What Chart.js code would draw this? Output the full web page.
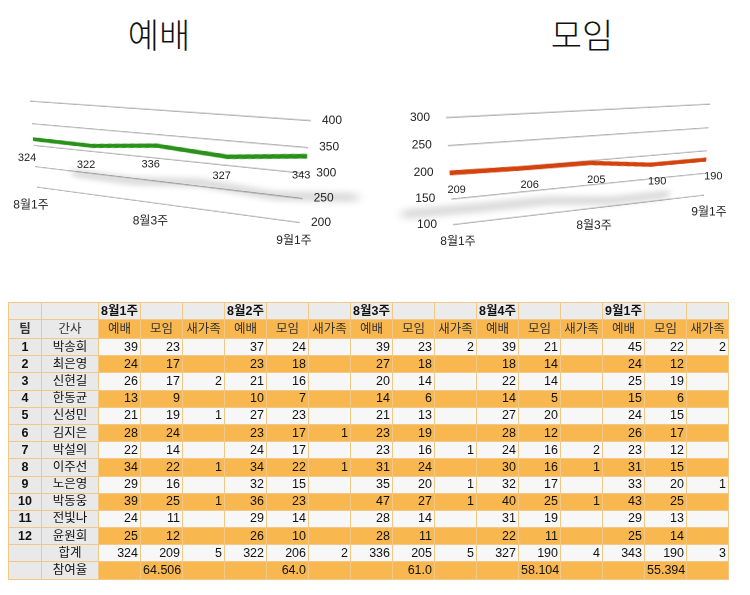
<!DOCTYPE html>
<html>
<head>
<meta charset="utf-8">
<script src="https://cdn.jsdelivr.net/npm/chart.js@4/dist/chart.umd.min.js"></script>
<style>
  html, body { margin: 0; padding: 0; background: #ffffff; }
  body { width: 750px; height: 595px; position: relative; overflow: hidden; }
  .title { position: absolute; top: 14px; font-family: "Noto Sans CJK KR", sans-serif; font-weight: 300;
           font-size: 34px; color: #111; transform: translateX(-50%); line-height: 40px; }
  canvas.pc { position: absolute; left: 0; top: 0; transform-origin: 0 0; }
  canvas#ov { position: absolute; left: 0; top: 0; width: 750px; height: 300px; pointer-events: none; }
  table { position: absolute; left: 8px; top: 302px; width: 720px; border-collapse: collapse; table-layout: fixed;
          font-family: "Liberation Sans", "Noto Sans CJK KR", sans-serif; font-size: 12.5px; color: #111; }
  td { border: 1px solid #f1c888; padding: 0 2px; height: 16.2px; line-height: 15px; white-space: nowrap;
       overflow: hidden; text-align: right; }
  tr.h1 td { background: #ebebeb; height: 16px; text-align: center; font-weight: bold; }
  tr.h2 td { background: #f9b750; height: 18px; text-align: center; color: #333; }
  tr.lt td { background: #f7f7f7; }
  tr.og td { background: #f9b750; }
  td.g, tr.lt td.g, tr.og td.g, tr.h2 td.g { background: #e9e9e9; text-align: center; }
  td.b { font-weight: bold; }
</style>
</head>
<body>
<div class="title" style="left:159px;">예배</div>
<div class="title" style="left:582px;">모임</div>
<canvas id="c1" class="pc" width="400" height="160"></canvas>
<canvas id="c2" class="pc" width="400" height="160"></canvas>
<canvas id="ov" width="1500" height="600"></canvas>
<table id="tbl"></table>
<script>
// ---------- data ----------
const categories = ['8월1주', '8월2주', '8월3주', '8월4주', '9월1주'];
const worshipTotals = [324, 322, 336, 327, 343];
const meetingTotals = [209, 206, 205, 190, 190];
const newcomerTotals = [5, 2, 5, 4, 3];
const participationRates = ['64.506', '64.0', '61.0', '58.104', '55.394'];
const worshipTicks = [200, 250, 300, 350, 400];
const meetingTicks = [100, 150, 200, 250, 300];

const teams = ['1', '2', '3', '4', '5', '6', '7', '8', '9', '10', '11', '12'];
const leaders = ['박송희', '최은영', '신현길', '한동균', '신성민', '김지은', '박설의', '이주선', '노은영', '박동웅', '전빛나', '윤원희'];
const worshipByWeek = [
  [39, 24, 26, 13, 21, 28, 22, 34, 29, 39, 24, 25],
  [37, 23, 21, 10, 27, 23, 24, 34, 32, 36, 29, 26],
  [39, 27, 20, 14, 21, 23, 23, 31, 35, 47, 28, 28],
  [39, 18, 22, 14, 27, 28, 24, 30, 32, 40, 31, 22],
  [45, 24, 25, 15, 24, 26, 23, 31, 33, 43, 29, 25]
];
const meetingByWeek = [
  [23, 17, 17, 9, 19, 24, 14, 22, 16, 25, 11, 12],
  [24, 18, 16, 7, 23, 17, 17, 22, 15, 23, 14, 10],
  [23, 18, 14, 6, 13, 19, 16, 24, 20, 27, 14, 11],
  [21, 14, 14, 5, 20, 12, 16, 16, 17, 25, 19, 11],
  [22, 12, 19, 6, 15, 17, 12, 15, 20, 25, 13, 14]
];
const newcomerByWeek = [
  [null, null, 2, null, 1, null, null, 1, null, 1, null, null],
  [null, null, null, null, null, 1, null, 1, null, null, null, null],
  [2, null, null, null, null, null, 1, null, 1, 1, null, null],
  [null, null, null, null, null, null, 2, 1, null, 1, null, null],
  [2, null, null, null, null, null, null, null, 1, null, null, null]
];
const subHeaders = ['예배', '모임', '새가족'];

// ---------- table ----------
(function buildTable() {
  const t = document.getElementById('tbl');
  let html = '<colgroup><col style="width:33px"><col style="width:57px">';
  for (let i = 0; i < 15; i++) html += '<col style="width:42px">';
  html += '</colgroup>';
  html += '<tr class="h1"><td class="g"></td><td class="g"></td>';
  categories.forEach(c => { html += '<td>' + c + '</td><td></td><td></td>'; });
  html += '</tr>';
  html += '<tr class="h2"><td class="g b">팀</td><td class="g">간사</td>';
  categories.forEach(() => subHeaders.forEach(s => { html += '<td>' + s + '</td>'; }));
  html += '</tr>';
  const v = x => (x === null || x === undefined) ? '' : x;
  teams.forEach((tm, r) => {
    html += '<tr class="' + (r % 2 === 0 ? 'lt' : 'og') + '"><td class="g b">' + tm + '</td><td class="g">' + leaders[r] + '</td>';
    for (let w = 0; w < categories.length; w++) {
      html += '<td>' + v(worshipByWeek[w][r]) + '</td><td>' + v(meetingByWeek[w][r]) + '</td><td>' + v(newcomerByWeek[w][r]) + '</td>';
    }
    html += '</tr>';
  });
  html += '<tr class="lt"><td class="g"></td><td class="g">합계</td>';
  for (let w = 0; w < categories.length; w++) {
    html += '<td>' + worshipTotals[w] + '</td><td>' + meetingTotals[w] + '</td><td>' + newcomerTotals[w] + '</td>';
  }
  html += '</tr>';
  html += '<tr class="og"><td class="g"></td><td class="g">참여율</td>';
  for (let w = 0; w < categories.length; w++) {
    html += '<td></td><td>' + participationRates[w] + '</td><td></td>';
  }
  html += '</tr>';
  t.innerHTML = html;
})();

// ---------- perspective helpers ----------
function solve(A, b) {
  const n = b.length;
  const M = A.map((row, i) => row.concat([b[i]]));
  for (let c = 0; c < n; c++) {
    let p = c;
    for (let r = c + 1; r < n; r++) if (Math.abs(M[r][c]) > Math.abs(M[p][c])) p = r;
    [M[c], M[p]] = [M[p], M[c]];
    for (let r = 0; r < n; r++) {
      if (r === c) continue;
      const f = M[r][c] / M[c][c];
      for (let k = c; k <= n; k++) M[r][k] -= f * M[c][k];
    }
  }
  return M.map((row, i) => row[n] / row[i]);
}
function homography(src, dst) {
  const A = [], B = [];
  for (let i = 0; i < 4; i++) {
    const [x, y] = src[i], [u, v] = dst[i];
    A.push([x, y, 1, 0, 0, 0, -x * u, -y * u]); B.push(u);
    A.push([0, 0, 0, x, y, 1, -x * v, -y * v]); B.push(v);
  }
  return solve(A, B);
}
function project(h, x, y) {
  const w = h[6] * x + h[7] * y + 1;
  return [(h[0] * x + h[1] * y + h[2]) / w, (h[3] * x + h[4] * y + h[5]) / w];
}
const DEPTH = 6; // front-plane offset of the 3D ribbon

// ribbon styling: shadow on the floor + front-plane offset
const ribbonPlugin = {
  id: 'ribbon',
  beforeDatasetsDraw(chart, args, opts) {
    const ctx = chart.ctx, dpr = chart.currentDevicePixelRatio;
    ctx.save();
    ctx.translate(0, DEPTH);
    ctx.shadowColor = 'rgba(0,0,0,0.30)';
    ctx.shadowBlur = 10 * dpr;
    ctx.shadowOffsetX = (opts.sx || 0) * dpr;
    ctx.shadowOffsetY = (opts.sy || 0) * dpr;
  },
  afterDatasetsDraw(chart) { chart.ctx.restore(); }
};

const ov = document.getElementById('ov');
const octx = ov.getContext('2d');
octx.scale(2, 2);
const LBL = "'Liberation Sans', 'Noto Sans CJK KR', sans-serif";

function makeChart(id, values, ticks, color, axisPos, dst, cfg) {
  const canvas = document.getElementById(id);
  const chart = new Chart(canvas, {
    type: 'line',
    data: {
      labels: categories,
      datasets: [{ data: values, borderColor: color, borderWidth: 5.5, pointRadius: 0, tension: 0, clip: false, fill: false }]
    },
    options: {
      responsive: false,
      animation: false,
      devicePixelRatio: 2,
      layout: { padding: cfg.padding },
      plugins: {
        legend: { display: false }, tooltip: { enabled: false }, title: { display: false },
        ribbon: { sx: cfg.sx, sy: cfg.sy }
      },
      scales: {
        x: { offset: false, grid: { display: false }, border: { display: false }, ticks: { display: false } },
        y: {
          position: axisPos,
          min: ticks[0], max: ticks[ticks.length - 1],
          afterBuildTicks: s => { s.ticks = ticks.map(v => ({ value: v })); },
          grid: { color: '#b3b3b3', lineWidth: 1.5, drawTicks: false },
          border: { display: false },
          ticks: { display: false }
        }
      }
    },
    plugins: [ribbonPlugin]
  });
  const xs = chart.scales.x, ys = chart.scales.y;
  const xl = xs.getPixelForValue(0), xr = xs.getPixelForValue(categories.length - 1);
  const yt = ys.getPixelForValue(ticks[ticks.length - 1]), yb = ys.getPixelForValue(ticks[0]);
  const h = homography([[xl, yt], [xr, yt], [xl, yb], [xr, yb]], dst);
  canvas.style.transform = 'matrix3d(' + [h[0], h[3], 0, h[6], h[1], h[4], 0, h[7], 0, 0, 1, 0, h[2], h[5], 0, 1].join(',') + ')';

  // flat text labels placed at projected scale positions
  octx.fillStyle = '#222';
  octx.textBaseline = 'middle';
  octx.font = '12px ' + LBL;
  octx.textAlign = axisPos === 'right' ? 'left' : 'right';
  ticks.forEach(t => {
    const [u, v] = project(h, axisPos === 'right' ? xr : xl, ys.getPixelForValue(t));
    octx.fillText(String(t), u + (axisPos === 'right' ? cfg.yGap : -cfg.yGap), v);
  });
  octx.textAlign = 'center';
  categories.forEach((c, i) => {
    if (i % 2 !== 0) return;
    const [u, v] = project(h, xs.getPixelForValue(i), yb);
    octx.fillText(c, u + cfg.cx, v + cfg.cy);
  });
  octx.font = '11px ' + LBL;
  chart.getDatasetMeta(0).data.forEach((pt, i) => {
    const [u, v] = project(h, pt.x, pt.y + DEPTH);
    octx.fillText(String(values[i]), u + cfg.vx, v + cfg.vy);
  });
  return chart;
}

// plot frame (back wall) corners on the page: TL, TR, BL, BR
makeChart('c1', worshipTotals, worshipTicks, '#2a921a', 'right',
  [[30, 101], [311, 120.5], [37, 187], [300, 222.5]],
  { padding: { left: 10, right: 80, top: 10, bottom: 20 }, sx: 50, sy: 42, yGap: 11, cx: -6, cy: 18, vx: -6, vy: 19 });
makeChart('c2', meetingTotals, meetingTicks, '#d4420d', 'left',
  [[446, 117.5], [710, 104], [453, 224.5], [704, 195]],
  { padding: { left: 80, right: 10, top: 10, bottom: 20 }, sx: -50, sy: 42, yGap: 16, cx: 5, cy: 17, vx: 7, vy: 17 });
</script>
</body>
</html>
